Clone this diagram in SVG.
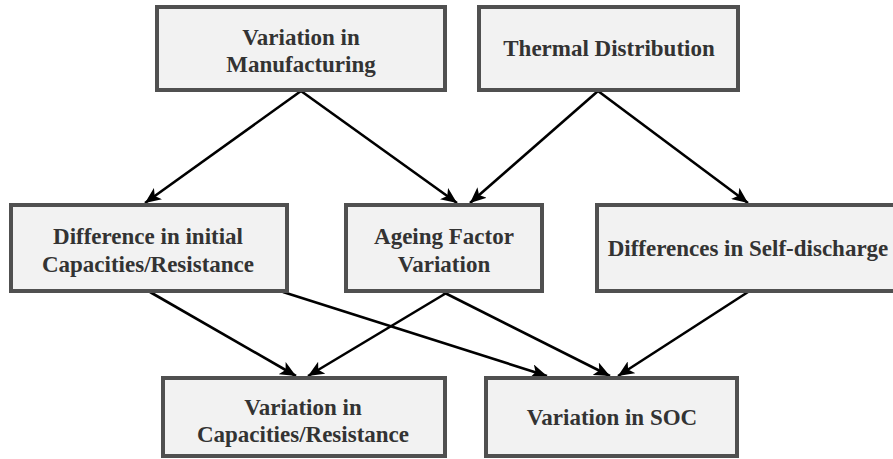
<svg xmlns="http://www.w3.org/2000/svg" width="893" height="459" viewBox="0 0 893 459">
<style>
.box{fill:#f2f2f2;stroke:#505050;stroke-width:4}
.c{stroke:#000;stroke-width:2.6;fill:none;marker-end:url(#ah)}
.t{font-family:'Liberation Serif',serif;font-weight:bold;font-size:23px;fill:#333;text-anchor:middle}
</style>
<defs>
<marker id="ah" markerUnits="userSpaceOnUse" markerWidth="17" markerHeight="14" refX="16" refY="7" orient="auto" viewBox="0 0 17 14">
<path d="M0,0 L16,7 L0,14 L4,7 z" fill="#000"/>
</marker>
</defs>
<rect width="893" height="459" fill="#fff"/>
<g id="connectors">
<line class="c" x1="301" y1="91" x2="145" y2="203"/>
<line class="c" x1="301" y1="91" x2="457" y2="203"/>
<line class="c" x1="598" y1="91" x2="470" y2="203"/>
<line class="c" x1="598" y1="91" x2="748" y2="203"/>
<line class="c" x1="150" y1="292" x2="296" y2="376"/>
<line class="c" x1="283" y1="292" x2="547" y2="376"/>
<line class="c" x1="448" y1="292" x2="308" y2="376"/>
<line class="c" x1="443" y1="292" x2="610" y2="376"/>
<line class="c" x1="748" y1="292" x2="618" y2="376"/>
</g>
<g id="n1">
<rect class="box" x="157" y="7" width="288" height="83"/>
<text class="t" x="301" y="45">Variation in</text>
<text class="t" x="301" y="72">Manufacturing</text>
</g>
<g id="n2">
<rect class="box" x="479" y="7" width="259" height="83"/>
<text class="t" x="609" y="56">Thermal Distribution</text>
</g>
<g id="n3">
<rect class="box" x="11" y="205" width="276" height="86"/>
<text class="t" x="148" y="244">Difference in initial</text>
<text class="t" x="148" y="272">Capacities/Resistance</text>
</g>
<g id="n4">
<rect class="box" x="346" y="205" width="196" height="86"/>
<text class="t" x="444" y="244">Ageing Factor</text>
<text class="t" x="444" y="272">Variation</text>
</g>
<g id="n5">
<rect class="box" x="597" y="205" width="310" height="86"/>
<text class="t" x="748" y="256">Differences in Self-discharge</text>
</g>
<g id="n6">
<rect class="box" x="163" y="378" width="282" height="78"/>
<text class="t" x="303" y="415">Variation in</text>
<text class="t" x="303" y="442">Capacities/Resistance</text>
</g>
<g id="n7">
<rect class="box" x="486" y="378" width="251" height="78"/>
<text class="t" x="612" y="425">Variation in SOC</text>
</g>
</svg>
